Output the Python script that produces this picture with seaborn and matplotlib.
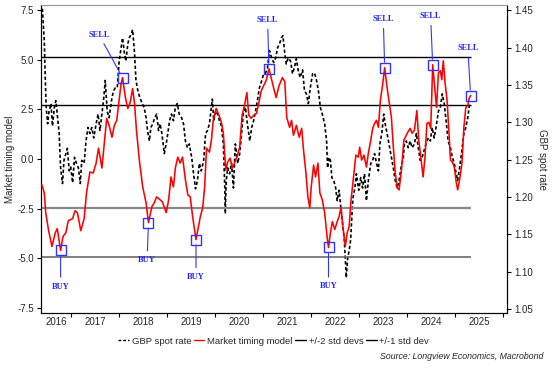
import numpy as np
import pandas as pd
import seaborn as sns
import matplotlib
matplotlib.use("Agg")
import matplotlib.pyplot as plt
from matplotlib.lines import Line2D

# market timing model (left axis), decimal years
model_x = [2016.39, 2016.44, 2016.47, 2016.53, 2016.60, 2016.67, 2016.71, 2016.78, 2016.83, 2016.89,
           2016.94, 2017.03, 2017.08, 2017.13, 2017.20, 2017.27, 2017.32, 2017.39, 2017.46, 2017.52,
           2017.57, 2017.64, 2017.69, 2017.74, 2017.79, 2017.85, 2017.90, 2017.95, 2017.99, 2018.04,
           2018.07, 2018.13, 2018.18, 2018.23, 2018.28, 2018.32, 2018.36, 2018.42, 2018.49, 2018.56,
           2018.61, 2018.68, 2018.73, 2018.78, 2018.85, 2018.90, 2018.98, 2019.03, 2019.08, 2019.13,
           2019.17, 2019.22, 2019.27, 2019.32, 2019.38, 2019.43, 2019.48, 2019.53, 2019.60, 2019.64,
           2019.69, 2019.74, 2019.78, 2019.82, 2019.88, 2019.92, 2019.96, 2020.02, 2020.08, 2020.13,
           2020.17, 2020.22, 2020.26, 2020.31, 2020.36, 2020.40, 2020.45, 2020.51, 2020.56, 2020.61,
           2020.66, 2020.70, 2020.75, 2020.80, 2020.86, 2020.91, 2020.96, 2021.01, 2021.06, 2021.12,
           2021.17, 2021.22, 2021.27, 2021.33, 2021.40, 2021.45, 2021.49, 2021.55, 2021.59, 2021.63,
           2021.69, 2021.75, 2021.80, 2021.84, 2021.89, 2021.93, 2021.97, 2022.00, 2022.05, 2022.09,
           2022.14, 2022.18, 2022.23, 2022.28, 2022.33, 2022.36, 2022.40, 2022.44, 2022.49, 2022.54,
           2022.58, 2022.62, 2022.66, 2022.71, 2022.75, 2022.79, 2022.83, 2022.89, 2022.93, 2022.98,
           2023.01, 2023.05, 2023.10, 2023.15, 2023.19, 2023.24, 2023.28, 2023.32, 2023.36, 2023.40,
           2023.44, 2023.49, 2023.53, 2023.58, 2023.62, 2023.67, 2023.71, 2023.75, 2023.79, 2023.83,
           2023.88, 2023.93, 2024.01, 2024.06, 2024.10, 2024.15, 2024.20, 2024.24, 2024.29, 2024.33,
           2024.37, 2024.41, 2024.45, 2024.49, 2024.53, 2024.56, 2024.61, 2024.65, 2024.69, 2024.72,
           2024.75, 2024.79, 2024.83, 2024.87, 2024.90, 2024.94, 2024.98, 2025.02, 2025.05, 2025.09,
           2025.14, 2025.18, 2025.22, 2025.26, 2025.29, 2025.32]
model_y = [-1.3, -1.7, -2.7, -3.6, -4.4, -3.7, -3.5, -4.6, -3.9, -3.7,
           -3.1, -3.0, -2.6, -2.7, -3.6, -3.0, -1.7, -0.65, -0.7, -0.2,
           0.55, -0.45, 0.8, 2.05, 1.7, 1.1, 1.7, 1.95, 2.8, 3.8,
           4.1, 3.1, 2.55, 2.85, 3.55, 2.8, 1.45, -0.05, -1.4, -2.2,
           -3.2, -2.4, -2.2, -1.9, -2.05, -2.15, -2.7, -2.05, -0.9, -1.4,
           -0.45, 0.1, -0.2, 0.1, -1.05, -1.8, -1.9, -2.9, -4.05, -3.55,
           -2.9, -2.45, -1.4, 0.55, 0.35, 0.95, 1.95, 2.55, 2.2, 1.85,
           1.3, -0.55, -0.15, 0.05, -0.45, -0.2, 0.1, 0.6, 2.2, 2.7,
           3.35, 2.2, 2.05, 2.2, 2.3, 2.85, 3.45, 3.7, 3.95, 4.55,
           4.05, 3.55, 3.1, 3.7, 4.1, 3.9, 2.1, 1.6, 1.95, 1.2,
           1.7, 1.1, 1.55, 0.45, -0.7, -1.9, -2.45, -1.4, -0.3, -0.9,
           -0.2, -1.7, -2.05, -2.7, -3.9, -4.45, -3.7, -3.15, -3.55, -3.15,
           -2.9, -2.45, -3.4, -4.4, -3.7, -3.4, -2.05, -0.7, 0.2, 0.1,
           0.6, -0.05, 0.2, -0.4, 0.3, 0.95, 1.55, 1.8, 1.95, 1.6,
           2.95, 3.8, 4.6, 3.6, 2.95, 2.1, 0.6, -0.7, -1.45, -1.55,
           -0.55, 0.95, 1.35, 1.55, 1.3, 1.45, 2.45, 0.95, -0.05, -0.9,
           0.1, 1.8, 1.85, 1.55, 4.75, 3.95, 2.6, 4.35, 4.45, 4.0,
           4.95, 3.8, 2.95, 1.3, -0.05, -0.15, -0.4, -1.15, -1.55, -1.05,
           -0.2, 1.6, 2.6, 2.7, 3.05, 3.2]

# GBP spot rate (right axis)
gbp_x = [2016.40, 2016.44, 2016.46, 2016.48, 2016.51, 2016.54, 2016.58, 2016.61, 2016.65, 2016.68,
         2016.71, 2016.75, 2016.78, 2016.82, 2016.85, 2016.89, 2016.92, 2016.96, 2016.99, 2017.03,
         2017.07, 2017.11, 2017.15, 2017.19, 2017.22, 2017.27, 2017.31, 2017.35, 2017.39, 2017.43,
         2017.47, 2017.52, 2017.56, 2017.60, 2017.64, 2017.68, 2017.71, 2017.75, 2017.79, 2017.84,
         2017.88, 2017.92, 2017.96, 2018.00, 2018.04, 2018.07, 2018.11, 2018.14, 2018.18, 2018.21,
         2018.25, 2018.28, 2018.32, 2018.35, 2018.39, 2018.43, 2018.48, 2018.52, 2018.56, 2018.59,
         2018.63, 2018.66, 2018.70, 2018.74, 2018.78, 2018.82, 2018.85, 2018.89, 2018.94, 2018.99,
         2019.05, 2019.09, 2019.13, 2019.17, 2019.21, 2019.25, 2019.30, 2019.34, 2019.38, 2019.42,
         2019.46, 2019.51, 2019.55, 2019.59, 2019.63, 2019.67, 2019.71, 2019.76, 2019.80, 2019.84,
         2019.88, 2019.92, 2019.94, 2019.97, 2020.01, 2020.05, 2020.09, 2020.13, 2020.17, 2020.20,
         2020.21, 2020.23, 2020.26, 2020.30, 2020.34, 2020.38, 2020.42, 2020.47, 2020.51, 2020.55,
         2020.59, 2020.63, 2020.67, 2020.72, 2020.76, 2020.80, 2020.84, 2020.88, 2020.92, 2020.97,
         2021.01, 2021.05, 2021.09, 2021.13, 2021.18, 2021.22, 2021.26, 2021.30, 2021.34, 2021.38,
         2021.41, 2021.45, 2021.48, 2021.52, 2021.57, 2021.61, 2021.65, 2021.69, 2021.73, 2021.77,
         2021.82, 2021.86, 2021.90, 2021.94, 2021.98, 2022.03, 2022.07, 2022.11, 2022.15, 2022.19,
         2022.23, 2022.28, 2022.32, 2022.34, 2022.37, 2022.40, 2022.43, 2022.47, 2022.51, 2022.54,
         2022.58, 2022.61, 2022.65, 2022.69, 2022.72, 2022.73, 2022.76, 2022.79, 2022.82, 2022.85,
         2022.87, 2022.91, 2022.94, 2022.99, 2023.03, 2023.07, 2023.11, 2023.15, 2023.19, 2023.24,
         2023.28, 2023.32, 2023.36, 2023.40, 2023.43, 2023.47, 2023.51, 2023.54, 2023.58, 2023.62,
         2023.67, 2023.71, 2023.75, 2023.79, 2023.83, 2023.87, 2023.92, 2023.94, 2023.98, 2024.02,
         2024.06, 2024.10, 2024.15, 2024.19, 2024.23, 2024.27, 2024.31, 2024.35, 2024.39, 2024.44,
         2024.48, 2024.52, 2024.56, 2024.60, 2024.65, 2024.69, 2024.73, 2024.77, 2024.81, 2024.85,
         2024.90, 2024.94, 2024.98, 2025.02, 2025.05, 2025.09, 2025.13, 2025.18, 2025.22, 2025.26,
         2025.30]
gbp_y = [1.452, 1.409, 1.360, 1.320, 1.298, 1.315, 1.325, 1.295, 1.320, 1.329,
         1.311, 1.285, 1.239, 1.218, 1.249, 1.258, 1.265, 1.235, 1.240, 1.219,
         1.253, 1.245, 1.239, 1.218, 1.249, 1.245, 1.275, 1.293, 1.285, 1.293,
         1.279, 1.298, 1.311, 1.289, 1.311, 1.333, 1.356, 1.315, 1.306, 1.329,
         1.342, 1.346, 1.346, 1.382, 1.400, 1.413, 1.392, 1.382, 1.405, 1.413,
         1.418, 1.424, 1.392, 1.356, 1.342, 1.333, 1.325, 1.320, 1.306, 1.289,
         1.275, 1.293, 1.298, 1.306, 1.311, 1.289, 1.298, 1.285, 1.258, 1.275,
         1.302, 1.311, 1.302, 1.320, 1.325, 1.311, 1.306, 1.298, 1.275, 1.266,
         1.271, 1.253, 1.231, 1.211, 1.222, 1.245, 1.235, 1.249, 1.285, 1.289,
         1.298, 1.320, 1.331, 1.302, 1.315, 1.311, 1.302, 1.295, 1.271, 1.212,
         1.178, 1.222, 1.239, 1.231, 1.245, 1.212, 1.271, 1.245, 1.258, 1.285,
         1.315, 1.320, 1.298, 1.275, 1.293, 1.302, 1.315, 1.329, 1.346, 1.356,
         1.365, 1.366, 1.373, 1.396, 1.385, 1.380, 1.386, 1.400, 1.405, 1.413,
         1.416, 1.392, 1.378, 1.386, 1.382, 1.365, 1.373, 1.385, 1.369, 1.360,
         1.370, 1.342, 1.338, 1.325, 1.346, 1.365, 1.366, 1.356, 1.342, 1.320,
         1.311, 1.298, 1.275, 1.239, 1.253, 1.249, 1.226, 1.222, 1.212, 1.195,
         1.209, 1.191, 1.168, 1.142, 1.106, 1.092, 1.119, 1.128, 1.142, 1.178,
         1.199, 1.212, 1.231, 1.209, 1.226, 1.212, 1.231, 1.195, 1.222, 1.245,
         1.249, 1.258, 1.245, 1.235, 1.271, 1.285, 1.311, 1.298, 1.285, 1.271,
         1.253, 1.239, 1.222, 1.212, 1.222, 1.239, 1.253, 1.271, 1.275, 1.266,
         1.275, 1.266, 1.271, 1.285, 1.266, 1.249, 1.253, 1.262, 1.271, 1.279,
         1.275, 1.293, 1.279, 1.293, 1.315, 1.320, 1.338, 1.325, 1.302, 1.275,
         1.266, 1.253, 1.245, 1.231, 1.222, 1.239, 1.258, 1.285, 1.293, 1.306,
         1.325]

# std dev bands of the model
std2_levels = [5.15, -4.95]
std1_levels = [2.72, -2.45]

# buy / sell signals
signal_x = [2016.78, 2018.07, 2018.61, 2019.60, 2021.12, 2022.36, 2023.53, 2024.53, 2025.32]
signal_labels = ["BUY", "SELL", "BUY", "BUY", "SELL", "BUY", "SELL", "SELL", "SELL"]
label_offsets = [(0, -26), (-17, 31), (-1, -27), (0, -27), (-1, 35), (0, -28), (-1, 35), (-1.5, 35), (-2, 34)]

years = list(range(2016, 2026))

sns.set_theme(style="white")
plt.rcParams["font.family"] = ["Liberation Sans", "DejaVu Sans"]

fig = plt.figure(figsize=(5.53, 3.70), dpi=100)
ax = fig.add_axes([0.074, 0.154, 0.843, 0.832])
ax2 = ax.twinx()

df_model = pd.DataFrame({"date": model_x, "model": model_y})
df_gbp = pd.DataFrame({"date": gbp_x, "gbp": gbp_y})

x0, x1 = 2016.37, 2026.08
end = model_x[-1]

# band lines
ax.hlines(std2_levels[0], x0, end, color="black", lw=1.0)
ax.hlines(std1_levels[0], x0, end, color="black", lw=1.0)
ax.hlines(std1_levels[1], x0, end, color="#888888", lw=1.6)
ax.hlines(std2_levels[1], x0, end, color="#6a6a6a", lw=1.2)

sns.lineplot(data=df_model, x="date", y="model", ax=ax, color="#ff0000", lw=1.15, zorder=3)
sns.lineplot(data=df_gbp, x="date", y="gbp", ax=ax2, color="black", lw=1.2,
             linestyle=(0, (2, 1.4)), zorder=2)

# signal boxes and labels
sig_y = np.interp(signal_x, model_x, model_y)
for sx, sy, lab, off in zip(signal_x, sig_y, signal_labels, label_offsets):
    ax.plot(sx, sy, marker="s", ms=6.5, mfc="none", mec="#3333ff", mew=1.0, zorder=5)
    ax.annotate(lab, xy=(sx, sy), xytext=off, textcoords="offset points",
                ha="center", va="center", fontsize=6, color="#2222ff",
                family="Liberation Serif", fontweight="bold",
                arrowprops=dict(arrowstyle="-", color="#3333ff", lw=0.8,
                                shrinkA=1.5, shrinkB=4), zorder=6)

ax.set_zorder(ax2.get_zorder() + 1)
ax.patch.set_visible(False)

ax.set_xlim(x0, x1)
ax.set_ylim(-7.75, 7.75)
ax2.set_ylim(1.0447, 1.4567)

ax.set_yticks([-7.5, -5.0, -2.5, 0.0, 2.5, 5.0, 7.5])
ax.set_yticklabels(["-7.5", "-5.0", "-2.5", "0.0", "2.5", "5.0", "7.5"])
ax2.set_yticks(np.arange(1.05, 1.451, 0.05))
ax2.set_yticklabels([f"{v:.2f}" for v in np.arange(1.05, 1.451, 0.05)])

# year boundaries as ticks, year labels mid-year
ax.set_xticks([y + 1 for y in years])
ax.set_xticklabels([])
mids = [(x0 + 2017) / 2] + [y + 0.5 for y in years[1:]]
ax.set_xticks(mids, minor=True)
ax.set_xticklabels([str(y) for y in years], minor=True)
ax.tick_params(axis="x", which="major", direction="out", length=3, width=0.8, color="black", bottom=True)
ax.tick_params(axis="x", which="minor", length=0, labelsize=7, pad=3, bottom=True)
ax.tick_params(axis="y", direction="out", length=3, width=0.8, color="black", labelsize=7, left=True, pad=2)
ax2.tick_params(axis="y", direction="out", length=3, width=0.8, color="black", labelsize=7, right=True, pad=2)

ax.set_xlabel("")
ax.set_ylabel("Market timing model", fontsize=7, labelpad=1.5)
ax2.set_xlabel("")
ax2.set_ylabel("GBP spot rate", fontsize=7, rotation=270, labelpad=10)

for a in (ax, ax2):
    for s in a.spines.values():
        s.set_color("black")
        s.set_linewidth(0.8)
    a.grid(False)
ax.spines["top"].set_color("#999999")
ax2.spines["top"].set_color("#999999")

handles = [
    Line2D([], [], color="black", lw=1.0, linestyle=(0, (2, 1.4))),
    Line2D([], [], color="#ff0000", lw=1.0),
    Line2D([], [], color="black", lw=1.0),
    Line2D([], [], color="black", lw=1.0),
]
labels = ["GBP spot rate", "Market timing model", "+/-2 std devs", "+/-1 std dev"]
fig.legend(handles, labels, loc="center", bbox_to_anchor=(0.495, 0.078), ncol=4,
           frameon=False, fontsize=6.8, handlelength=1.1, handletextpad=0.3,
           columnspacing=0.3)

fig.text(0.982, 0.037, "Source: Longview Economics, Macrobond", ha="right", va="center",
         fontsize=6.3, style="italic")

fig.savefig("out.png", dpi=100)
